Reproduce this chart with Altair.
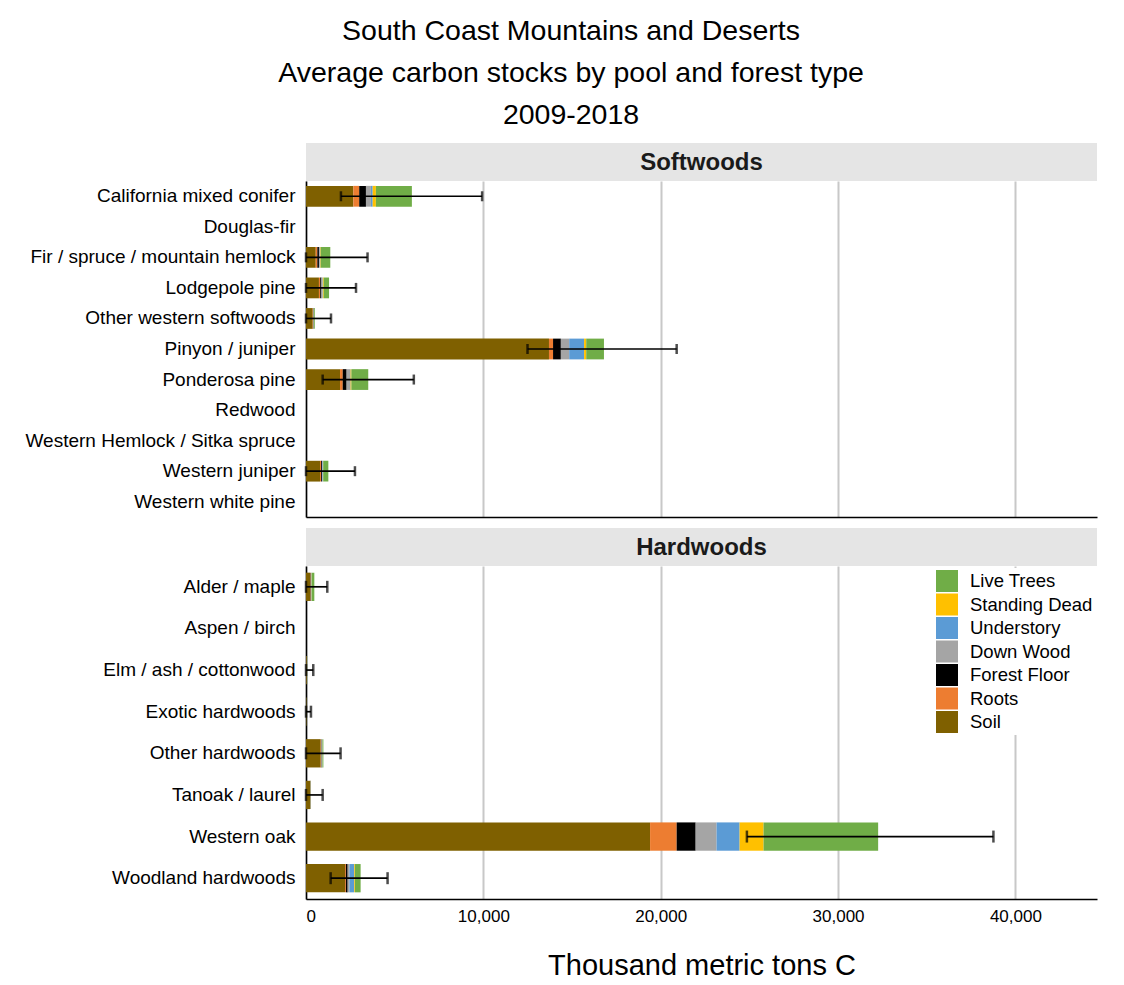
import altair as alt
import pandas as pd

FONT = "Liberation Sans"
TITLE_LINES = ["South Coast Mountains and Deserts",
               "Average carbon stocks by pool and forest type",
               "2009-2018"]
X_TITLE = "Thousand metric tons C"
X_TICKS = [0, 10000, 20000, 30000, 40000]
X_MAX = 44600

POOLS_LEGEND = ["Live Trees", "Standing Dead", "Understory", "Down Wood",
                "Forest Floor", "Roots", "Soil"]
POOL_COLORS = ["#70AD47", "#FFC000", "#5B9BD5", "#A5A5A5",
               "#000000", "#ED7D31", "#7F6000"]
STACK_ORDER = ["Soil", "Roots", "Forest Floor", "Down Wood",
               "Understory", "Standing Dead", "Live Trees"]

# ---- Softwoods ----
soft_types = ["California mixed conifer", "Douglas-fir",
              "Fir / spruce / mountain hemlock", "Lodgepole pine",
              "Other western softwoods", "Pinyon / juniper", "Ponderosa pine",
              "Redwood", "Western Hemlock / Sitka spruce", "Western juniper",
              "Western white pine"]
soft_soil = [2670, 0, 550, 730, 380, 13700, 1920, 0, 0, 790, 0]
soft_roots = [330, 0, 90, 70, 20, 230, 150, 0, 0, 60, 0]
soft_ff = [380, 0, 90, 70, 20, 440, 220, 0, 0, 50, 0]
soft_dw = [280, 0, 50, 60, 15, 470, 190, 0, 0, 40, 0]
soft_und = [100, 0, 20, 20, 10, 840, 30, 0, 0, 20, 0]
soft_sd = [180, 0, 30, 50, 5, 120, 50, 0, 0, 10, 0]
soft_live = [2030, 0, 540, 300, 45, 1000, 950, 0, 0, 290, 0]
soft_err_lo = [1970, None, 0, 0, 0, 12490, 940, None, None, 0, None]
soft_err_hi = [9930, None, 3470, 2820, 1410, 20900, 6080, None, None, 2760, None]

# ---- Hardwoods ----
hard_types = ["Alder / maple", "Aspen / birch", "Elm / ash / cottonwood",
              "Exotic hardwoods", "Other hardwoods", "Tanoak / laurel",
              "Western oak", "Woodland hardwoods"]
hard_soil = [230, 0, 40, 20, 830, 240, 19400, 2200]
hard_roots = [30, 0, 5, 3, 30, 10, 1500, 50]
hard_ff = [20, 0, 3, 2, 20, 10, 1070, 100]
hard_dw = [20, 0, 3, 2, 20, 10, 1180, 100]
hard_und = [10, 0, 2, 1, 20, 0, 1300, 270]
hard_sd = [10, 0, 2, 1, 10, 0, 1350, 40]
hard_live = [150, 0, 10, 5, 50, 10, 6460, 320]
hard_err_lo = [0, None, 0, 0, 0, 0, 24860, 1390]
hard_err_hi = [1200, None, 410, 280, 1950, 940, 38760, 4600]

W = 791


def panel(name, types, pools, lo, hi, height, bottom, show_legend, cap):
    rows = []
    for pool, vals in pools.items():
        for t, v in zip(types, vals):
            rows.append({"type": t, "pool": pool, "value": v,
                         "order": STACK_ORDER.index(pool)})
    df = pd.DataFrame(rows)
    err = pd.DataFrame({"type": types, "lo": lo, "hi": hi}).dropna()

    yscale = alt.Scale(domain=types, paddingInner=0.32)
    xscale = alt.Scale(domain=[0, X_MAX], nice=False)
    yaxis = alt.Axis(title=None, labelFontSize=19, labelColor="black",
                     ticks=False, labelPadding=11, domainColor="black",
                     domainWidth=1.5, labelLimit=400, labelFont=FONT)
    xaxis = alt.Axis(title=X_TITLE if bottom else None, values=X_TICKS,
                     format=",.0f", grid=True, gridColor="#c8c8c8", gridWidth=2,
                     ticks=False, domainColor="black", domainWidth=1.5,
                     labels=bottom, labelFontSize=17, labelColor="black",
                     labelPadding=9, titleFontSize=29, titleFontWeight="normal",
                     titleColor="black", titlePadding=27, labelFont=FONT,
                     titleFont=FONT)
    if show_legend:
        legend = alt.Legend(title=None, orient="top-right", symbolType="square",
                            symbolSize=484, symbolStrokeWidth=0, labelFontSize=18.5,
                            labelColor="black", rowPadding=1.5, offset=2,
                            fillColor="white", padding=2, labelFont=FONT,
                            labelOffset=12)
    else:
        legend = None

    X = lambda f: alt.X(f, scale=xscale, axis=xaxis, title=X_TITLE if bottom else None)
    Y = alt.Y("type:N", scale=yscale, sort=types, axis=yaxis, title=None)

    bars = alt.Chart(df).mark_bar().encode(
        x=alt.X("value:Q", stack="zero", scale=xscale, axis=xaxis,
                title=X_TITLE if bottom else None),
        y=Y,
        color=alt.Color("pool:N", scale=alt.Scale(domain=POOLS_LEGEND,
                                                  range=POOL_COLORS),
                        legend=legend),
        order=alt.Order("order:Q"),
    )
    ebase = alt.Chart(err)
    rule = ebase.mark_rule(color="black", strokeWidth=1.7).encode(
        x=X("lo:Q"), x2="hi:Q", y=Y)
    cap_lo = ebase.mark_tick(orient="vertical", color="black", size=cap,
                             thickness=2.5).encode(x=X("lo:Q"), y=Y)
    cap_hi = ebase.mark_tick(orient="vertical", color="black", size=cap,
                             thickness=2.5).encode(x=X("hi:Q"), y=Y)

    hdf = pd.DataFrame({"label": [name]})
    hrect = alt.Chart(hdf).mark_rect(color="#e5e5e5").encode(
        x=alt.value(0), x2=alt.value(W), y=alt.value(-38), y2=alt.value(0))
    htext = alt.Chart(hdf).mark_text(fontSize=24, fontWeight="bold",
                                     font=FONT, color="#1a1a1a",
                                     baseline="middle").encode(
        text="label:N", x=alt.value(W / 2), y=alt.value(-18))

    return alt.layer(hrect, htext, bars, rule, cap_lo, cap_hi).properties(
        width=W, height=height)


soft = panel("Softwoods", soft_types,
             {"Soil": soft_soil, "Roots": soft_roots, "Forest Floor": soft_ff,
              "Down Wood": soft_dw, "Understory": soft_und,
              "Standing Dead": soft_sd, "Live Trees": soft_live},
             soft_err_lo, soft_err_hi, 336, False, False, 10)
hard = panel("Hardwoods", hard_types,
             {"Soil": hard_soil, "Roots": hard_roots, "Forest Floor": hard_ff,
              "Down Wood": hard_dw, "Understory": hard_und,
              "Standing Dead": hard_sd, "Live Trees": hard_live},
             hard_err_lo, hard_err_hi, 333, True, True, 12)

chart = alt.vconcat(soft, hard, spacing=11).resolve_scale(
    color="independent").resolve_legend(color="independent").properties(
    title=alt.TitleParams(text=TITLE_LINES, fontSize=28.5, fontWeight="normal",
                          font=FONT, color="black", lineHeight=42,
                          anchor="middle", frame="bounds", offset=14, dx=10),
    padding={"left": 17, "top": 8, "right": 10, "bottom": 5},
).configure(font=FONT).configure_view(stroke=None)

chart.save("out.html", embed_options={"renderer": "svg", "actions": False})
